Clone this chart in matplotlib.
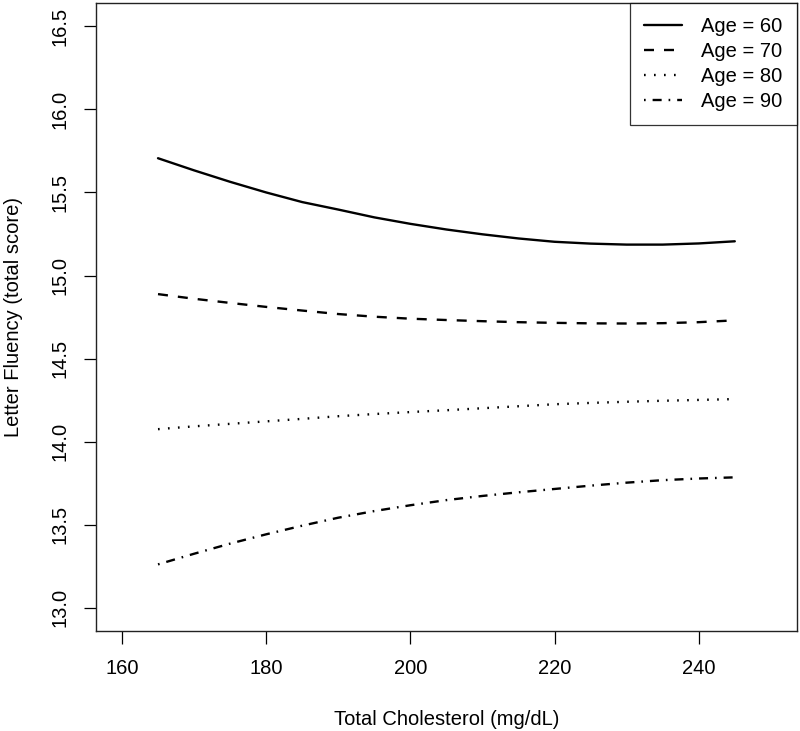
import matplotlib
matplotlib.use("Agg")
import matplotlib.pyplot as plt

plt.rcParams['font.family'] = ['Liberation Sans', 'DejaVu Sans']
plt.rcParams['lines.scale_dashes'] = False

# cholesterol values along the curves
chol = [165, 170, 175, 180, 185, 190, 195, 200, 205, 210, 215, 220, 225, 230, 235, 240, 245]

# predicted letter fluency per age group
age60 = [15.706, 15.633, 15.564, 15.500, 15.442, 15.397, 15.350, 15.311, 15.277,
         15.248, 15.223, 15.203, 15.192, 15.186, 15.186, 15.193, 15.206]
age70 = [14.888, 14.860, 14.835, 14.811, 14.789, 14.768, 14.752, 14.740, 14.732,
         14.725, 14.719, 14.715, 14.712, 14.711, 14.713, 14.719, 14.730]
age80 = [14.075, 14.092, 14.107, 14.122, 14.137, 14.153, 14.166, 14.178, 14.189,
         14.201, 14.213, 14.225, 14.233, 14.240, 14.246, 14.251, 14.256]
age90 = [13.261, 13.325, 13.386, 13.442, 13.494, 13.542, 13.582, 13.617, 13.648,
         13.673, 13.695, 13.715, 13.735, 13.753, 13.768, 13.778, 13.785]

labels = ['Age = 60', 'Age = 70', 'Age = 80', 'Age = 90']
x_ticks = [160, 180, 200, 220, 240]
y_ticks = [13.0, 13.5, 14.0, 14.5, 15.0, 15.5, 16.0, 16.5]

fig = plt.figure(figsize=(8, 7.31), dpi=100)
ax = fig.add_axes([0.12, 0.1368, 0.876, 0.859])

lw = 1.7
ax.plot(chol, age60, color='black', lw=lw, solid_capstyle='round', label=labels[0])
ax.plot(chol, age70, color='black', lw=lw, linestyle=(0, (7.2, 7.2)), label=labels[1])
ax.plot(chol, age80, color='black', lw=lw, linestyle=(0, (1.2, 6.0)), label=labels[2])
ax.plot(chol, age90, color='black', lw=lw, linestyle=(0, (1.2, 5.0, 6.5, 5.0)), label=labels[3])

ax.set_xlim(156.4, 253.6)
ax.set_ylim(12.86, 16.64)
ax.set_xticks(x_ticks)
ax.set_yticks(y_ticks)
ax.set_yticklabels([f"{v:.1f}" for v in y_ticks])

ax.tick_params(axis='both', direction='out', length=9, width=0.9, colors='black', labelsize=14.5)
ax.tick_params(axis='x', pad=11)
ax.tick_params(axis='y', pad=10, labelrotation=90)
for lbl in ax.get_yticklabels():
    lbl.set_va('center')

for sp in ax.spines.values():
    sp.set_linewidth(1.0)
    sp.set_color('#222222')

ax.set_xlabel('Total Cholesterol (mg/dL)', fontsize=14.5, labelpad=23)
ax.set_ylabel('Letter Fluency (total score)', fontsize=14.5, labelpad=20)

leg = ax.legend(loc='upper right', bbox_to_anchor=(1.0, 1.0), borderaxespad=0,
                fontsize=14.5, frameon=True, fancybox=False, edgecolor='black',
                handlelength=1.9, handletextpad=0.95, labelspacing=0.3,
                borderpad=0.7)
leg.get_frame().set_linewidth(0.9)

fig.savefig('out.png', dpi=100)
